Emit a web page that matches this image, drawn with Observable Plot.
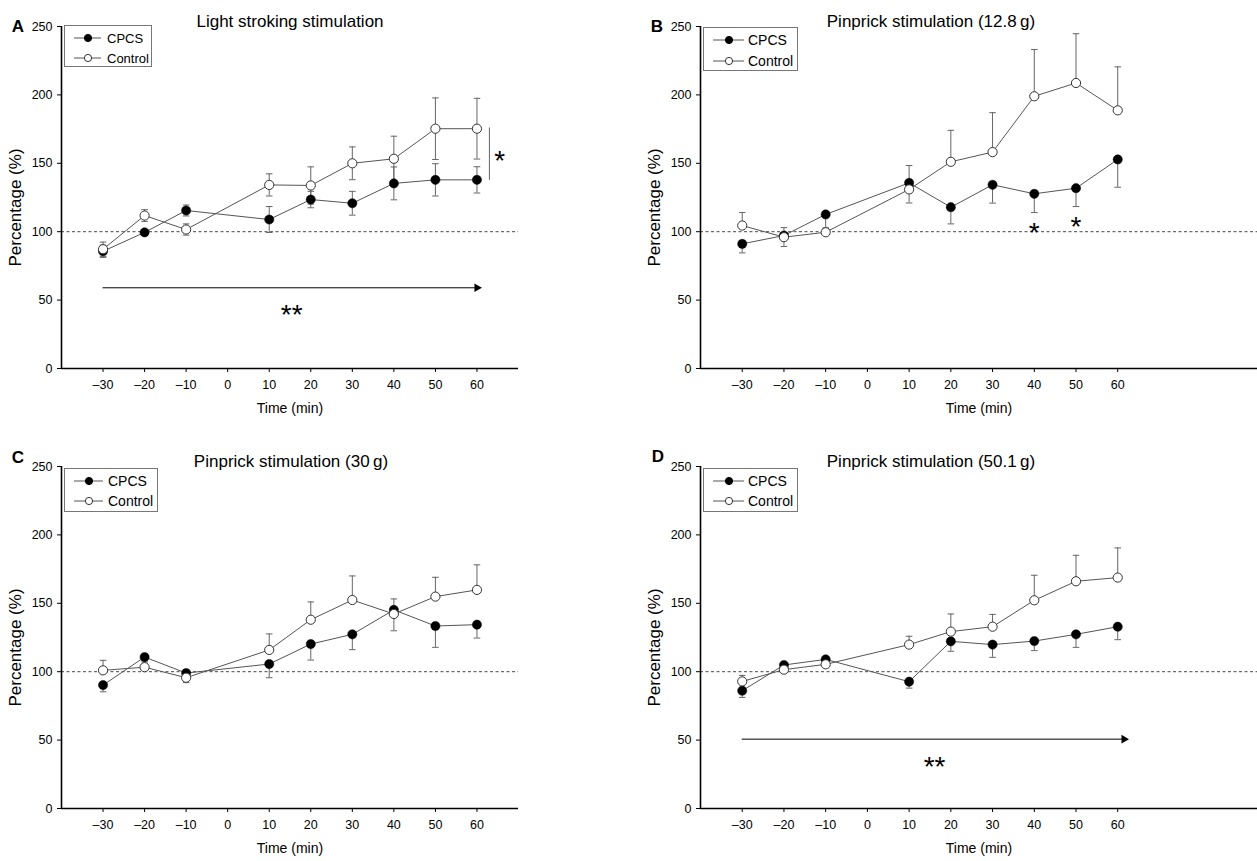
<!DOCTYPE html>
<html><head><meta charset="utf-8">
<script src="https://cdn.jsdelivr.net/npm/d3@7"></script>
<script src="https://cdn.jsdelivr.net/npm/@observablehq/plot@0.6"></script>
<style>
body{margin:0;background:#fff;font-family:"Liberation Sans",Arial,sans-serif;}
#wrap{position:relative;width:1257px;height:861px;overflow:hidden;background:#fff;}
.panel{position:absolute;}
.panel svg{display:block;overflow:visible;}
.title{position:absolute;font-size:17px;transform:translate(-50%,-50%);white-space:nowrap;color:#000;}
.letter{position:absolute;font-weight:bold;font-size:17px;transform:translate(-50%,-50%);color:#000;}
.legend{position:absolute;border:1px solid #777;background:#fff;box-sizing:border-box;}
.legend span{position:absolute;transform:translateY(-50%);white-space:nowrap;color:#000;line-height:1;}
.legend svg{position:absolute;left:0;}
</style></head><body><div id="wrap"></div><script>
// ---------- data ----------
const times = [-30, -20, -10, 10, 20, 30, 40, 50, 60];
const xTicks = [-30, -20, -10, 0, 10, 20, 30, 40, 50, 60];
const yTicks = [0, 50, 100, 150, 200, 250];
const seriesNames = ["CPCS", "Control"];
const panelLetters = ["A", "B", "C", "D"];
const panelTitles = ["Light stroking stimulation", "Pinprick stimulation (12.8\u2009g)", "Pinprick stimulation (30\u2009g)", "Pinprick stimulation (50.1\u2009g)"];
const xLabel = "Time (min)";
const yLabel = "Percentage (%)";
const baseline = 100;

// A: light stroking (symmetric SEM)
const A_cpcs = [85.7, 99.5, 115.5, 108.9, 123.5, 120.8, 135.3, 137.9, 137.9];
const A_cpcsErr = [4.5, 2, 4, 9.5, 6, 8.7, 12, 11.8, 9.6];
const A_control = [87.2, 111.8, 101.6, 134.2, 133.8, 150.0, 153.3, 175.3, 175.3];
const A_controlErr = [5.2, 4.3, 4.1, 8.1, 13.6, 12, 16.5, 22.5, 22.2];

// B: pinprick 12.8 g
const B_cpcs = [91.1, 97.2, 112.6, 135.7, 117.9, 134.3, 127.7, 131.8, 152.8];
const B_cpcsDown = [6.6, 8, 10, 14.7, 12.2, 13.4, 13.7, 13.4, 20.3];
const B_control = [104.5, 96.0, 99.6, 130.9, 151.1, 158.2, 199.0, 208.7, 188.7];
const B_controlUp = [9.5, 7, 3, 17.5, 23, 28.8, 34.2, 36, 31.8];

// C: pinprick 30 g
const C_cpcs = [90.2, 110.7, 99.0, 105.6, 120.2, 127.3, 145.2, 133.4, 134.4];
const C_cpcsDown = [4.9, 3, 7, 10, 11.7, 11.2, 0, 15.6, 9.8];
const C_cpcsUp = [0, 0, 0, 0, 0, 0, 8, 0, 0];
const C_control = [101.0, 103.3, 95.6, 115.9, 138.0, 152.4, 142.2, 154.9, 159.8];
const C_controlUp = [7.3, 3, 5.8, 11.7, 13, 17.6, 0, 14.1, 18.3];
const C_controlDown = [0, 0, 0, 0, 0, 0, 12.3, 0, 0];

// D: pinprick 50.1 g
const D_cpcs = [86.1, 104.9, 109.0, 92.7, 122.2, 119.8, 122.4, 127.3, 132.9];
const D_cpcsDown = [4.9, 2, 2, 4.7, 7.3, 9.3, 7, 9.5, 9.5];
const D_control = [92.9, 101.5, 105.4, 119.8, 129.3, 132.9, 152.2, 166.1, 168.8];
const D_controlUp = [4.4, 2, 2, 6.1, 12.9, 9, 18.3, 19, 21.7];

// annotations (data coordinates)
const A_arrow = [-30, 60, 59];          // x start, x end, y
const A_bracket = [63, 137.5, 175.8];   // x, y1, y2
const A_stars = [{x: 15.4, y: 44.2, t: "**"}, {x: 65.5, y: 156.6, t: "*"}];
const B_stars = [{x: 40, y: 104.2, t: "*"}, {x: 50, y: 108.6, t: "*"}];
const D_arrow = [-30, 61.5, 50.7];
const D_stars = [{x: 16.1, y: 35.1, t: "**"}];

const noErr = [];

const panels = [
  {vals: [A_cpcs, A_control], up: [A_cpcsErr, A_controlErr], down: [A_cpcsErr, A_controlErr], stars: A_stars, arrow: A_arrow, bracket: A_bracket},
  {vals: [B_cpcs, B_control], up: [noErr, B_controlUp], down: [B_cpcsDown, noErr], stars: B_stars},
  {vals: [C_cpcs, C_control], up: [C_cpcsUp, C_controlUp], down: [C_cpcsDown, C_controlDown], stars: []},
  {vals: [D_cpcs, D_control], up: [noErr, D_controlUp], down: [D_cpcsDown, noErr], stars: D_stars, arrow: D_arrow}
];

// ---------- layout ----------
const layout = [
  {left: 0, top: 0, width: 628, height: 430, ml: 61, mr: 110, mt: 26, mb: 62, xmax: 70,
   title: [290, 22], letter: [18, 27], legend: {l: 64, t: 25, w: 88, h: 42, fs: 13, rows: [13, 33], lx: [9, 36], mx: 23, tx: 42}},
  {left: 630, top: 0, width: 627, height: 430, ml: 70, mr: 0, mt: 26, mb: 62, xmax: 93.5,
   title: [931, 22], letter: [657, 27], legend: {l: 703, t: 27, w: 95, h: 44, fs: 14, rows: [13, 34], lx: [9, 40], mx: 25, tx: 44}},
  {left: 0, top: 430, width: 628, height: 431, ml: 61, mr: 110, mt: 36, mb: 53, xmax: 70,
   title: [291, 462], letter: [18, 458], legend: {l: 64, t: 468, w: 94, h: 44, fs: 14, rows: [13, 33], lx: [9, 38], mx: 24, tx: 43}},
  {left: 630, top: 430, width: 627, height: 431, ml: 70, mr: 0, mt: 36, mb: 53, xmax: 93.5,
   title: [931, 462], letter: [658, 457], legend: {l: 703, t: 468, w: 95, h: 44, fs: 14, rows: [13, 33], lx: [9, 40], mx: 25, tx: 44}}
];

const lineColor = "#555";
const errColor = "#666";
const capSymbol = {draw(ctx) { ctx.moveTo(-3.3, 0); ctx.lineTo(3.3, 0); }};
const fmtX = d => d < 0 ? "\u2013" + Math.abs(d) : String(d);

const wrap = document.getElementById("wrap");

panels.forEach((p, pi) => {
  const L = layout[pi];
  const rows = [];
  seriesNames.forEach((s, si) => {
    times.forEach((t, i) => rows.push({
      series: s, t, v: p.vals[si][i],
      up: p.up[si][i] || 0, down: p.down[si][i] || 0
    }));
  });
  const errs = [];
  rows.forEach(d => {
    if (d.up > 0) errs.push({t: d.t, a: d.v, b: d.v + d.up});
    if (d.down > 0) errs.push({t: d.t, a: d.v, b: d.v - d.down});
  });
  const marks = [
    Plot.ruleY([baseline], {stroke: "#333", strokeWidth: 0.9, strokeDasharray: "3,2.5"}),
    Plot.line(rows, {x: "t", y: "v", z: "series", stroke: lineColor, strokeWidth: 1}),
    Plot.ruleX(errs, {x: "t", y1: "a", y2: "b", stroke: errColor, strokeWidth: 1}),
    Plot.dot(errs, {x: "t", y: "b", symbol: capSymbol, stroke: errColor, fill: "none", strokeWidth: 1}),
    Plot.dot(rows.filter(d => d.series === "CPCS"), {x: "t", y: "v", r: 4.6, fill: "#000", stroke: "#000", strokeWidth: 0.5}),
    Plot.dot(rows.filter(d => d.series === "Control"), {x: "t", y: "v", r: 4.6, fill: "#fff", stroke: "#333", strokeWidth: 1}),
    Plot.text(p.stars, {x: "x", y: "y", text: "t", fontSize: 28, dy: 7, fill: "#000"}),
    Plot.ruleX([-40], {stroke: "#000", strokeWidth: 1.6}),
    Plot.ruleY([0], {stroke: "#000", strokeWidth: 1.6}),
    Plot.axisX({ticks: xTicks, tickFormat: fmtX, tickSize: 4, tickPadding: 8, fontSize: 12.5, label: null}),
    Plot.axisY({ticks: yTicks, tickSize: 4, tickPadding: 5, fontSize: 12.5, label: null}),
    Plot.text([xLabel], {frameAnchor: "bottom", dy: 44, fontSize: 14, textAnchor: "middle", text: d => d, fill: "#000"}),
    Plot.text([yLabel], {frameAnchor: "left", dx: -46, dy: 10, rotate: -90, fontSize: 17, textAnchor: "middle", text: d => d, fill: "#000"})
  ];
  if (p.arrow) {
    marks.push(Plot.ruleY([p.arrow], {y: d => d[2], x1: d => d[0], x2: d => d[1], stroke: "#000", strokeWidth: 1}));
    marks.push(Plot.dot([p.arrow], {x: d => d[1], y: d => d[2], symbol: "triangle", rotate: 90, r: 3.2, fill: "#000", stroke: "none"}));
  }
  if (p.bracket) {
    marks.push(Plot.ruleX([p.bracket], {x: d => d[0], y1: d => d[1], y2: d => d[2], stroke: "#666", strokeWidth: 1}));
  }
  const svg = Plot.plot({
    width: L.width, height: L.height,
    marginLeft: L.ml, marginRight: L.mr, marginTop: L.mt, marginBottom: L.mb,
    x: {domain: [-40, L.xmax]},
    y: {domain: [0, 250]},
    style: {fontFamily: "'Liberation Sans', Arial, sans-serif", fontSize: "12px", color: "#000", background: "transparent"},
    marks
  });
  const holder = document.createElement("div");
  holder.className = "panel";
  holder.style.left = L.left + "px";
  holder.style.top = L.top + "px";
  holder.appendChild(svg);
  wrap.appendChild(holder);

  // title and panel letter
  const title = document.createElement("div");
  title.className = "title";
  title.style.left = L.title[0] + "px";
  title.style.top = L.title[1] + "px";
  title.textContent = panelTitles[pi];
  wrap.appendChild(title);
  const letter = document.createElement("div");
  letter.className = "letter";
  letter.style.left = L.letter[0] + "px";
  letter.style.top = L.letter[1] + "px";
  letter.textContent = panelLetters[pi];
  wrap.appendChild(letter);

  // legend
  const lg = L.legend;
  const box = document.createElement("div");
  box.className = "legend";
  box.style.left = lg.l + "px"; box.style.top = lg.t + "px";
  box.style.width = lg.w + "px"; box.style.height = lg.h + "px";
  seriesNames.forEach((s, si) => {
    const cy = lg.rows[si] - 1;
    const filled = si === 0;
    const sv = d3.create("svg").attr("width", lg.w).attr("height", 12)
      .style("top", (cy - 6) + "px");
    sv.append("line").attr("x1", lg.lx[0]).attr("x2", lg.lx[1]).attr("y1", 6).attr("y2", 6)
      .attr("stroke", lineColor).attr("stroke-width", 1);
    sv.append("circle").attr("cx", lg.mx).attr("cy", 6).attr("r", 3.6)
      .attr("fill", filled ? "#000" : "#fff").attr("stroke", filled ? "#000" : "#333").attr("stroke-width", 1);
    box.appendChild(sv.node());
    const sp = document.createElement("span");
    sp.style.left = lg.tx + "px"; sp.style.top = cy + "px"; sp.style.fontSize = lg.fs + "px";
    sp.textContent = s;
    box.appendChild(sp);
  });
  wrap.appendChild(box);
});
</script></body></html>
